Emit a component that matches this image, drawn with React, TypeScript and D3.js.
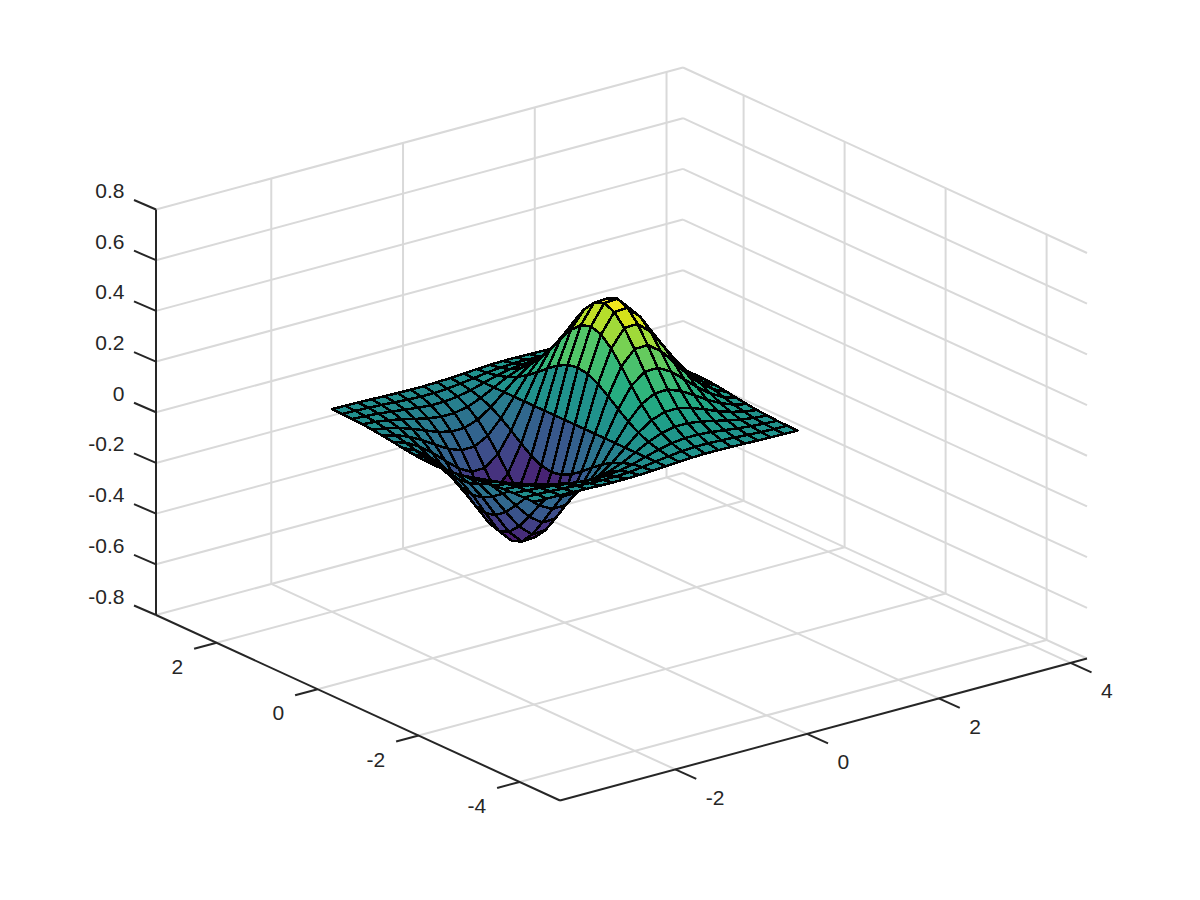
import React from "react";
import * as d3 from "d3";

const xTicks = [-2, 0, 2, 4];
const yTicks = [-4, -2, 0, 2];
const zTicks = [-0.8, -0.6, -0.4, -0.2, 0, 0.2, 0.4, 0.6, 0.8];
const xGrid = [-2, -1.8, -1.6, -1.4, -1.2, -1, -0.8, -0.6, -0.4, -0.2, 0, 0.2, 0.4, 0.6, 0.8, 1, 1.2, 1.4, 1.6, 1.8, 2];
const yGrid = [-2, -1.8, -1.6, -1.4, -1.2, -1, -0.8, -0.6, -0.4, -0.2, 0, 0.2, 0.4, 0.6, 0.8, 1, 1.2, 1.4, 1.6, 1.8, 2];

// One row per xGrid entry, one column per yGrid entry.
const zRows = [
  [-.0007,-.0014,-.0028,-.0052,-.0087,-.0135,-.0193,-.0255,-.0312,-.0352,-.0366,-.0352,-.0312,-.0255,-.0193,-.0135,-.0087,-.0052,-.0028,-.0014,-.0007],
  [-.0013,-.0028,-.0055,-.0099,-.0167,-.0260,-.0372,-.0493,-.0602,-.0678,-.0706,-.0678,-.0602,-.0493,-.0372,-.0260,-.0167,-.0099,-.0055,-.0028,-.0013],
  [-.0023,-.0048,-.0096,-.0174,-.0293,-.0455,-.0652,-.0863,-.1054,-.1189,-.1237,-.1189,-.1054,-.0863,-.0652,-.0455,-.0293,-.0174,-.0096,-.0048,-.0023],
  [-.0036,-.0077,-.0153,-.0278,-.0467,-.0726,-.1040,-.1377,-.1681,-.1896,-.1973,-.1896,-.1681,-.1377,-.1040,-.0726,-.0467,-.0278,-.0153,-.0077,-.0036],
  [-.0052,-.0111,-.0220,-.0401,-.0674,-.1046,-.1499,-.1984,-.2423,-.2732,-.2843,-.2732,-.2423,-.1984,-.1499,-.1046,-.0674,-.0401,-.0220,-.0111,-.0052],
  [-.0067,-.0144,-.0284,-.0518,-.0872,-.1353,-.1940,-.2567,-.3135,-.3535,-.3679,-.3535,-.3135,-.2567,-.1940,-.1353,-.0872,-.0518,-.0284,-.0144,-.0067],
  [-.0077,-.0165,-.0326,-.0594,-.0999,-.1552,-.2224,-.2943,-.3594,-.4053,-.4218,-.4053,-.3594,-.2943,-.2224,-.1552,-.0999,-.0594,-.0326,-.0165,-.0077],
  [-.0077,-.0164,-.0324,-.0590,-.0992,-.1540,-.2207,-.2921,-.3567,-.4022,-.4186,-.4022,-.3567,-.2921,-.2207,-.1540,-.0992,-.0590,-.0324,-.0164,-.0077],
  [-.0062,-.0134,-.0263,-.0480,-.0807,-.1254,-.1797,-.2378,-.2904,-.3274,-.3408,-.3274,-.2904,-.2378,-.1797,-.1254,-.0807,-.0480,-.0263,-.0134,-.0062],
  [-.0035,-.0075,-.0149,-.0271,-.0455,-.0707,-.1013,-.1341,-.1638,-.1847,-.1922,-.1847,-.1638,-.1341,-.1013,-.0707,-.0455,-.0271,-.0149,-.0075,-.0035],
  [0,0,0,0,0,0,0,0,0,0,0,0,0,0,0,0,0,0,0,0,0],
  [.0035,.0075,.0149,.0271,.0455,.0707,.1013,.1341,.1638,.1847,.1922,.1847,.1638,.1341,.1013,.0707,.0455,.0271,.0149,.0075,.0035],
  [.0062,.0134,.0263,.0480,.0807,.1254,.1797,.2378,.2904,.3274,.3408,.3274,.2904,.2378,.1797,.1254,.0807,.0480,.0263,.0134,.0062],
  [.0077,.0164,.0324,.0590,.0992,.1540,.2207,.2921,.3567,.4022,.4186,.4022,.3567,.2921,.2207,.1540,.0992,.0590,.0324,.0164,.0077],
  [.0077,.0165,.0326,.0594,.0999,.1552,.2224,.2943,.3594,.4053,.4218,.4053,.3594,.2943,.2224,.1552,.0999,.0594,.0326,.0165,.0077],
  [.0067,.0144,.0284,.0518,.0872,.1353,.1940,.2567,.3135,.3535,.3679,.3535,.3135,.2567,.1940,.1353,.0872,.0518,.0284,.0144,.0067],
  [.0052,.0111,.0220,.0401,.0674,.1046,.1499,.1984,.2423,.2732,.2843,.2732,.2423,.1984,.1499,.1046,.0674,.0401,.0220,.0111,.0052],
  [.0036,.0077,.0153,.0278,.0467,.0726,.1040,.1377,.1681,.1896,.1973,.1896,.1681,.1377,.1040,.0726,.0467,.0278,.0153,.0077,.0036],
  [.0023,.0048,.0096,.0174,.0293,.0455,.0652,.0863,.1054,.1189,.1237,.1189,.1054,.0863,.0652,.0455,.0293,.0174,.0096,.0048,.0023],
  [.0013,.0028,.0055,.0099,.0167,.0260,.0372,.0493,.0602,.0678,.0706,.0678,.0602,.0493,.0372,.0260,.0167,.0099,.0055,.0028,.0013],
  [.0007,.0014,.0028,.0052,.0087,.0135,.0193,.0255,.0312,.0352,.0366,.0352,.0312,.0255,.0193,.0135,.0087,.0052,.0028,.0014,.0007],
];

const xLim: [number, number] = [-3.75, 4.25];
const yLim: [number, number] = [-4.8, 3.2];
const zLim: [number, number] = [-0.8, 0.8];

const ORIGIN = { x: 560, y: 800.5 };
const xToPx = d3.scaleLinear().domain(xLim).range([0, 527]);
const xToPy = d3.scaleLinear().domain(xLim).range([0, -142]);
const yToPx = d3.scaleLinear().domain(yLim).range([0, -404]);
const yToPy = d3.scaleLinear().domain(yLim).range([0, -185.5]);
const zToPy = d3.scaleLinear().domain(zLim).range([0, -405.5]);

type P = [number, number];
const project = (x: number, y: number, z: number): P => [
  ORIGIN.x + xToPx(x) + yToPx(y),
  ORIGIN.y + xToPy(x) + yToPy(y) + zToPy(z),
];

const nx = d3.scaleLinear().domain(xLim).range([0, 1]);
const ny = d3.scaleLinear().domain(yLim).range([0, 1]);
const nz = d3.scaleLinear().domain(zLim).range([0, 1]);
const depth = (x: number, y: number, z: number) =>
  -0.527 * nx(x) - 0.687 * ny(y) + 0.5 * nz(z);

const zAll = zRows.flat();
const colorT = d3
  .scaleLinear()
  .domain([d3.min(zAll) as number, d3.max(zAll) as number])
  .range([0, 1]);
const faceColor = (z: number) => {
  const t = Math.min(63, Math.floor(colorT(z) * 64));
  return d3.interpolateViridis(t / 63);
};

const line = d3.line<P>();
const GRID = "#d9d9d9";
const AXIS = "#262626";
const FONT = "'Liberation Sans', Arial, sans-serif";

type Face = { d: string; fill: string; depth: number };
const faces: Face[] = [];
for (let i = 0; i < xGrid.length - 1; i++) {
  for (let j = 0; j < yGrid.length - 1; j++) {
    const corners: [number, number][] = [
      [i, j],
      [i + 1, j],
      [i + 1, j + 1],
      [i, j + 1],
    ];
    const pts = corners.map(([a, b]) => project(xGrid[a], yGrid[b], zRows[a][b]));
    const dep = d3.mean(corners, ([a, b]) => depth(xGrid[a], yGrid[b], zRows[a][b])) as number;
    faces.push({
      d: (line(pts) as string) + "Z",
      fill: faceColor(zRows[i][j]),
      depth: dep,
    });
  }
}
faces.sort((a, b) => d3.ascending(a.depth, b.depth));

const seg = (a: P, b: P) => line([a, b]) as string;

export default function App() {
  const [x0, x1] = xLim;
  const [y0, y1] = yLim;
  const [z0, z1] = zLim;
  const grid: string[] = [];
  xTicks.forEach((x) => {
    grid.push(seg(project(x, y0, z0), project(x, y1, z0)));
    grid.push(seg(project(x, y1, z0), project(x, y1, z1)));
  });
  yTicks.forEach((y) => {
    grid.push(seg(project(x0, y, z0), project(x1, y, z0)));
    grid.push(seg(project(x1, y, z0), project(x1, y, z1)));
  });
  zTicks.forEach((z) => {
    grid.push(seg(project(x0, y1, z), project(x1, y1, z)));
    grid.push(seg(project(x1, y1, z), project(x1, y0, z)));
  });

  return (
    <svg
      width={1200}
      height={900}
      viewBox="0 0 1200 900"
      style={{ position: "absolute", left: 0, top: 0, background: "#fff" }}
    >
      <g fill="none" stroke={GRID} strokeWidth={2}>
        {grid.map((d, i) => (
          <path key={i} d={d} />
        ))}
      </g>
      <g stroke="#000" strokeWidth={2.5} strokeLinejoin="round" shapeRendering="crispEdges">
        {faces.map((f, i) => (
          <path key={i} d={f.d} fill={f.fill} />
        ))}
      </g>
      <g fill="none" stroke={AXIS} strokeWidth={2}>
        <path d={seg(project(x0, y0, z0), project(x1, y0, z0))} />
        <path d={seg(project(x0, y0, z0), project(x0, y1, z0))} />
        <path d={seg(project(x0, y1, z0), project(x0, y1, z1))} />
        {xTicks.map((x) => {
          const [px, py] = project(x, y0, z0);
          return <path key={x} d={seg([px, py], [px + 21, py + 9.5])} />;
        })}
        {yTicks.map((y) => {
          const [px, py] = project(x0, y, z0);
          return <path key={y} d={seg([px, py], [px - 22.5, py + 6])} />;
        })}
        {zTicks.map((z) => {
          const [px, py] = project(x0, y1, z);
          return <path key={z} d={seg([px, py], [px - 22, py - 9.5])} />;
        })}
      </g>
      <g fill={AXIS} fontFamily={FONT} fontSize={21}>
        {xTicks.map((x) => {
          const [px, py] = project(x, y0, z0);
          return (
            <text key={x} x={px + 30.5} y={py + 28} textAnchor="start" dominantBaseline="central">
              {x}
            </text>
          );
        })}
        {yTicks.map((y) => {
          const [px, py] = project(x0, y, z0);
          return (
            <text key={y} x={px - 33.4} y={py + 23.5} textAnchor="end" dominantBaseline="central">
              {y}
            </text>
          );
        })}
        {zTicks.map((z) => {
          const [px, py] = project(x0, y1, z);
          return (
            <text key={z} x={px - 31.5} y={py - 19} textAnchor="end" dominantBaseline="central">
              {z}
            </text>
          );
        })}
      </g>
    </svg>
  );
}
